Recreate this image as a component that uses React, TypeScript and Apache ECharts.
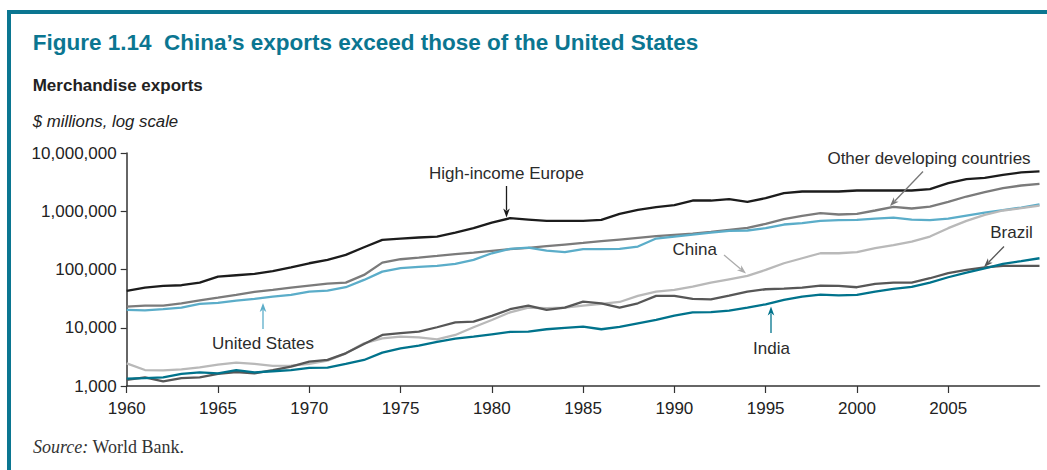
import React, { useEffect, useRef } from 'react';
import * as echarts from 'echarts';

const START_YEAR = 1960;
const xTicks = [1960, 1965, 1970, 1975, 1980, 1985, 1990, 1995, 2000, 2005];
const yTicks = [1000, 10000, 100000, 1000000, 10000000];

const highIncomeEurope = [
  43000, 49000, 52300, 53700, 59700, 75600, 79700, 84000, 93400, 109000,
  128000, 146000, 178000, 241000, 323000, 340000, 354000, 368000, 431000, 512000,
  640000, 760000, 721000, 684000, 684000, 684000, 711000, 902000, 1057000, 1175000,
  1271000, 1528000, 1528000, 1610000, 1449000, 1675000, 2046000, 2183000, 2183000, 2183000,
  2270000, 2270000, 2270000, 2270000, 2393000, 3035000, 3555000, 3750000, 4220000, 4640000,
  4820000,
];
const otherDeveloping = [
  23100, 24000, 24000, 26300, 29600, 32900, 36600, 41200, 44600, 48900,
  52900, 57300, 59600, 80700, 131000, 150000, 160000, 171000, 183000, 195000,
  209000, 223000, 235000, 251000, 268000, 286000, 306000, 327000, 349000, 373000,
  393000, 414000, 442000, 479000, 519000, 607000, 731000, 834000, 927000, 879000,
  902000, 1030000, 1191000, 1115000, 1205000, 1449000, 1790000, 2127000, 2489000, 2767000,
  2958000,
];
const unitedStates = [
  20200, 19950, 20800, 22200, 25600, 26700, 29300, 31300, 34300, 36600,
  41800, 43500, 49600, 66200, 92100, 106000, 111000, 115000, 125000, 146000,
  190000, 226000, 238000, 211000, 198000, 223000, 223000, 226000, 248000, 340000,
  368000, 398000, 431000, 460000, 467000, 512000, 592000, 624000, 684000, 703000,
  711000, 750000, 780000, 721000, 703000, 750000, 845000, 951000, 1043000, 1159000,
  1306000,
];
const china = [
  2450, 1880, 1860, 1930, 2090, 2330, 2520, 2390, 2210, 2240,
  2390, 2720, 3640, 5410, 6590, 7040, 6860, 6340, 7520, 10200,
  13600, 18400, 22200, 21600, 22200, 24000, 25600, 27700, 35200, 41800,
  44600, 50900, 59600, 68000, 77600, 98400, 128000, 156000, 190000, 190000,
  198000, 232000, 261000, 302000, 368000, 512000, 684000, 867000, 1030000, 1130000,
  1254000,
];
const brazil = [
  1270, 1410, 1200, 1370, 1410, 1610, 1740, 1650, 1880, 2150,
  2620, 2800, 3640, 5270, 7520, 8100, 8580, 10200, 12400, 12750,
  15950, 20800, 24000, 20200, 22200, 28100, 26300, 22200, 26300, 35200,
  35200, 31300, 30800, 35600, 41800, 45800, 47000, 48900, 52900, 52300,
  49600, 56600, 59600, 59600, 70800, 86300, 98400, 109000, 115000, 115000,
  115000,
];
const india = [
  1340, 1370, 1410, 1610, 1720, 1650, 1880, 1720, 1790, 1880,
  2040, 2070, 2390, 2800, 3740, 4440, 4930, 5700, 6500, 7040,
  7720, 8470, 8580, 9420, 9930, 10450, 9420, 10320, 11930, 13610,
  16150, 18300, 18500, 19700, 22180, 25300, 30000, 34300, 37100, 36100,
  36600, 41800, 46400, 50200, 59600, 73600, 88600, 105000, 125000, 139000,
  156000,
];

const seriesDefs = [
  { name: 'High-income Europe', data: highIncomeEurope, color: '#1c1c1c' },
  { name: 'Other developing countries', data: otherDeveloping, color: '#7b7b7b' },
  { name: 'United States', data: unitedStates, color: '#5badc9' },
  { name: 'China', data: china, color: '#b9b9b9' },
  { name: 'Brazil', data: brazil, color: '#575757' },
  { name: 'India', data: india, color: '#00738c' },
];

const SANS = '"Liberation Sans", Arial, sans-serif';
const SERIF = '"Liberation Serif", "Times New Roman", serif';
const TEAL = '#0b7691';

function arrow(x1: number, y1: number, x2: number, y2: number, color: string) {
  const dx = x2 - x1, dy = y2 - y1;
  const len = Math.hypot(dx, dy);
  const ux = dx / len, uy = dy / len;
  const head = 9, half = 3.3;
  const bx = x2 - ux * head, by = y2 - uy * head;
  const px = -uy, py = ux;
  return [
    { type: 'line', z: 10, shape: { x1, y1, x2: bx + ux * 2, y2: by + uy * 2 }, style: { stroke: color, lineWidth: 1.3 } },
    {
      type: 'polygon', z: 10,
      shape: { points: [[x2, y2], [bx + px * half, by + py * half], [bx + ux * 2.5, by + uy * 2.5], [bx - px * half, by - py * half]] },
      style: { fill: color },
    },
  ];
}

function label(text: string, x: number, y: number) {
  return {
    type: 'text', z: 10, x, y,
    style: { text, fill: '#2b2b2b', font: `17px ${SANS}`, align: 'center', verticalAlign: 'middle' },
  };
}

export default function App() {
  const ref = useRef<HTMLDivElement>(null);
  useEffect(() => {
    if (!ref.current) return;
    const chart = echarts.init(ref.current, undefined, { renderer: 'svg' });
    const option = {
      animation: false,
      backgroundColor: '#ffffff',
      grid: { left: 126.7, right: 7.5, top: 153, bottom: 84, containLabel: false },
      xAxis: {
        type: 'value', min: 1960, max: 2010,
        axisLine: { show: true, lineStyle: { color: '#333', width: 1.5 } },
        axisTick: { show: true, length: 7, customValues: xTicks, lineStyle: { color: '#333', width: 1.2 } },
        axisLabel: { customValues: xTicks, margin: 14, color: '#222', fontSize: 17, fontFamily: SANS, formatter: (v: number) => String(v) },
        splitLine: { show: false },
      },
      yAxis: {
        type: 'log', logBase: 10, min: yTicks[0], max: yTicks[yTicks.length - 1],
        axisLine: { show: true, lineStyle: { color: '#333', width: 1.5 } },
        axisTick: { show: true, length: 6, lineStyle: { color: '#333', width: 1.2 } },
        axisLabel: { margin: 10, color: '#222', fontSize: 17, fontFamily: SANS, formatter: (v: number) => Math.round(v).toLocaleString('en-US') },
        splitLine: { show: false },
      },
      series: seriesDefs.map((s) => ({
        name: s.name,
        type: 'line',
        symbol: 'none',
        data: s.data.map((v, i) => [START_YEAR + i, v]),
        lineStyle: { color: s.color, width: 2.3 },
        itemStyle: { color: s.color },
      })),
      graphic: [
        { type: 'rect', shape: { x: 7, y: 10, width: 1040, height: 4 }, style: { fill: TEAL } },
        { type: 'rect', shape: { x: 7, y: 10, width: 4, height: 460 }, style: { fill: TEAL } },
        {
          type: 'text', x: 32.7, y: 42.7,
          style: { text: 'Figure 1.14  China’s exports exceed those of the United States', fill: TEAL, font: `bold 22.5px ${SANS}`, verticalAlign: 'middle' },
        },
        {
          type: 'text', x: 32.7, y: 85.3,
          style: { text: 'Merchandise exports', fill: '#222', font: `bold 17px ${SANS}`, verticalAlign: 'middle' },
        },
        {
          type: 'text', x: 32.7, y: 121,
          style: { text: '$ millions, log scale', fill: '#222', font: `italic 16.8px ${SANS}`, verticalAlign: 'middle' },
        },
        {
          type: 'text', x: 33, y: 447,
          style: {
            text: '{i|Source:} World Bank.', fill: '#333', font: `18px ${SERIF}`, verticalAlign: 'middle',
            rich: { i: { fontStyle: 'italic', fontFamily: SERIF, fontSize: 18, fill: '#333' } },
          },
        },
        label('High-income Europe', 506.5, 173.5),
        ...arrow(506.5, 186, 506.5, 217.5, '#1c1c1c'),
        label('United States', 263, 343),
        ...arrow(263, 329, 263, 303, '#5badc9'),
        label('China', 694.7, 249.5),
        ...arrow(724, 255, 746, 273.5, '#ababab'),
        label('Other developing countries', 929, 158.3),
        ...arrow(923, 171.5, 890, 206, '#777777'),
        label('Brazil', 1011.5, 232),
        ...arrow(1004, 246.5, 984, 267, '#555555'),
        label('India', 771.5, 348.3),
        ...arrow(771, 333, 771, 306.5, '#00738c'),
      ],
    };
    chart.setOption(option as any);
    return () => chart.dispose();
  }, []);
  return <div ref={ref} style={{ position: 'fixed', left: 0, top: 0, width: 1047, height: 470, background: '#fff' }} />;
}
